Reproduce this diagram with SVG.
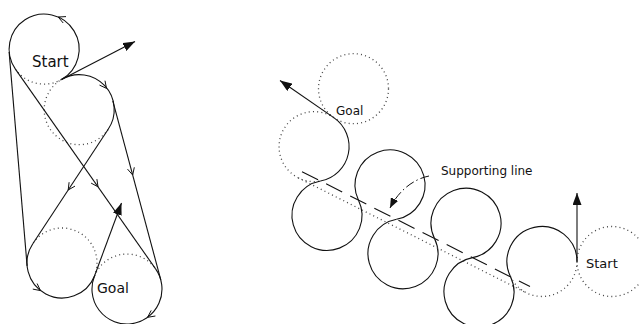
<svg xmlns="http://www.w3.org/2000/svg" width="639" height="324" viewBox="0 0 639 324">
  <defs>
    <style>
      .solid{fill:none;stroke:#111;stroke-width:1.1}
      .dot{fill:none;stroke:#444;stroke-width:1.3;stroke-dasharray:1 3.2}
      .chev{fill:none;stroke:#111;stroke-width:1}
      .sup{fill:none;stroke:#111;stroke-width:1.1;stroke-dasharray:18 9}
      .lead{fill:none;stroke:#111;stroke-width:1;stroke-dasharray:9 3 1.5 3}
      text{font-family:"DejaVu Sans","Liberation Sans",sans-serif;fill:#111}
    </style>
    <marker id="head" markerWidth="12" markerHeight="9" refX="12" refY="4.5" orient="auto" markerUnits="userSpaceOnUse">
      <path d="M0,0 L12,4.5 L0,9 Z" fill="#111"/>
    </marker>
    <marker id="headS" markerWidth="10" markerHeight="8" refX="10" refY="4" orient="auto" markerUnits="userSpaceOnUse">
      <path d="M0,0 L10,4 L0,8 Z" fill="#111"/>
    </marker>
  </defs>
  <rect width="639" height="324" fill="#fff"/>

  <!-- Left figure: four candidate paths between two turning-circle pairs -->
  <g id="start-circle-ccw">
    <path class="solid" d="M61.5,79.5 A35,35 0 1 0 15.4,69.1"/>
    <path class="dot" d="M15.4,69.1 A35,35 0 0 0 61.5,79.5"/>
    <polyline class="chev" points="66,16.6 58.2,17 63.2,23"/>
  </g>
  <g id="start-circle-cw">
    <path class="solid" d="M61.5,79.5 A35,35 0 0 1 108.2,129.3"/>
    <path class="dot" d="M108.2,129.3 A35,35 0 1 1 61.5,79.5"/>
    <polyline class="chev" points="99.5,85.1 106.5,88.4 105,80.7"/>
  </g>
  <g id="goal-circle-ccw">
    <path class="solid" d="M32.8,243.7 A35,35 0 1 0 94.5,276"/>
    <path class="dot" d="M94.5,276 A35,35 0 0 0 32.8,243.7"/>
    <polyline class="chev" points="32.8,289.1 40.5,290.6 37.1,283.5"/>
  </g>
  <g id="goal-circle-cw">
    <path class="solid" d="M155.6,268.9 A35,35 0 1 1 94.5,276"/>
    <path class="dot" d="M94.5,276 A35,35 0 0 1 155.6,268.9"/>
    <polyline class="chev" points="151.2,310.4 147.6,317.3 155.4,316"/>
  </g>
  <g id="left-connectors">
    <path class="solid" d="M9.1,51.9 L27.1,265.9"/>
    <path class="solid" d="M15.4,69.1 L155.6,268.9"/>
    <path class="solid" d="M112.8,100.9 L160.8,279.9"/>
    <path class="solid" d="M108.2,129.3 L32.8,243.7"/>
    <polyline class="chev" points="91.1,183.1 98,186.8 96.9,179.1"/>
    <polyline class="chev" points="127.5,169.1 132.7,175 134.3,167.3"/>
    <polyline class="chev" points="69.1,182.2 68.2,190 75,186.1"/>
    <path class="solid" d="M61.5,79.5 L135,41.5" marker-end="url(#head)"/>
    <path class="solid" d="M94.5,276 L121.5,203" marker-end="url(#head)"/>
  </g>
  <g id="left-labels">
    <text x="32" y="67" font-size="15">Start</text>
    <text x="97" y="293" font-size="14">Goal</text>
  </g>

  <!-- Right figure: path of alternating turns along a supporting line -->
  <g id="goal-circle-top">
    <circle class="dot" cx="353.5" cy="88.7" r="35"/>
  </g>
  <g id="goal-circle-left">
    <path class="solid" d="M320.5,181 A35,35 0 0 0 333.75,117.65"/>
    <path class="dot" d="M333.75,117.65 A35,35 0 1 0 320.5,181"/>
  </g>
  <g id="loop-a"><path class="solid" d="M358.5,200.15 A35,35 0 1 1 320.5,181"/></g>
  <g id="loop-b"><path class="solid" d="M396.5,219.3 A35,35 0 1 0 358.5,200.15"/></g>
  <g id="loop-c"><path class="solid" d="M434.5,238.45 A35,35 0 1 1 396.5,219.3"/></g>
  <g id="loop-d"><path class="solid" d="M472.5,257.6 A35,35 0 1 0 434.5,238.45"/></g>
  <g id="loop-e"><path class="solid" d="M510.5,276.75 A35,35 0 1 1 472.5,257.6"/></g>
  <g id="start-circle-left">
    <path class="solid" d="M577,261.5 A35,35 0 1 0 510.5,276.75"/>
    <path class="dot" d="M510.5,276.75 A35,35 0 0 0 577,261.5"/>
  </g>
  <g id="start-circle-right">
    <circle class="dot" cx="612" cy="261.5" r="35"/>
  </g>
  <g id="right-connectors">
    <path class="dot" d="M298.25,177.86 L526.25,292.76"/>
    <path class="sup" d="M302,171.7 L530,286.6"/>
    <path class="solid" d="M333.75,117.65 L280,80.5" marker-end="url(#head)"/>
    <path class="solid" d="M577,261.5 L577,193" marker-end="url(#head)"/>
    <path class="lead" d="M429,176 C414,179 399,190 390,208" marker-end="url(#headS)"/>
  </g>
  <g id="right-labels">
    <text x="336" y="115" font-size="12">Goal</text>
    <text x="441" y="175" font-size="12">Supporting line</text>
    <text x="586" y="268" font-size="13">Start</text>
  </g>
</svg>
